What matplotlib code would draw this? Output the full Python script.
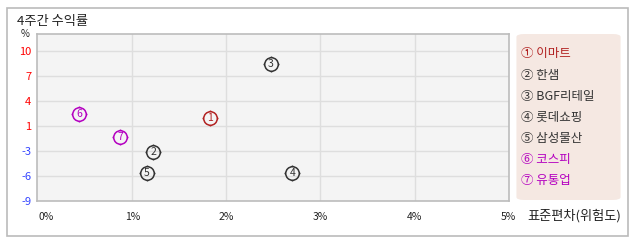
import numpy as np
import matplotlib
matplotlib.use("Agg")
from matplotlib import pyplot as plt
from matplotlib.path import Path
from matplotlib.patches import Rectangle, FancyBboxPatch

plt.rcParams['font.family'] = ['Noto Sans CJK KR', 'DejaVu Sans']

# data
names = ["이마트", "한샘", "BGF리테일", "롯데쇼핑", "삼성물산", "코스피", "유통업"]
risk = [1.82, 1.22, 2.47, 2.70, 1.15, 0.43, 0.87]        # 표준편차 (%)
ret = [1.62, -2.89, 8.50, -5.54, -5.54, 2.03, -0.95]      # 4주간 수익률 (%)
colors = ["#b22222", "#333333", "#333333", "#333333", "#333333", "#b400c0", "#b400c0"]
circled = ["①", "②", "③", "④", "⑤", "⑥", "⑦"]

y_ticks = [-9.2, -5.95, -2.7, 0.55, 3.8, 7.05, 10.3]
y_labels = ["-9", "-6", "-3", "1", "4", "7", "10"]
x_ticks = [0, 1, 2, 3, 4, 5]
x_labels = ["0%", "1%", "2%", "3%", "4%", "5%"]

W, H = 638, 242
fig = plt.figure(figsize=(W / 100, H / 100), dpi=100)


def fx(px):
    return px / W


def fy(py):
    return 1 - py / H


# outer frame
fig.patches.append(Rectangle((fx(6.5), fy(235.5)), fx(621), 228 / H, transform=fig.transFigure,
                             fill=False, ec="#bbbbbb", lw=1.2))

ax = fig.add_axes([fx(37), fy(201), fx(472), 167 / H])
ax.set_facecolor("#f4f4f4")
ax.set_xlim(-0.015, 5.005)
ax.set_ylim(-9.2, 12.45)
for v in y_ticks[1:]:
    ax.axhline(v, color="#dedede", lw=1.0, zorder=1)
for v in x_ticks[1:-1]:
    ax.axvline(v, color="#dedede", lw=1.0, zorder=1)
for s in ax.spines.values():
    s.set_color("#bcbcbc")
    s.set_linewidth(1.2)

ax.set_yticks(y_ticks)
ax.set_yticklabels(y_labels, fontsize=8)
for lab, t in zip(ax.get_yticklabels(), y_ticks):
    lab.set_color("#ff0000" if t > 0 else "#3344ff")
ax.set_xticks(x_ticks)
ax.set_xticklabels(x_labels, fontsize=7.5, color="#222222")
ax.tick_params(length=0)
ax.tick_params(axis="y", pad=4)
ax.tick_params(axis="x", pad=8)
ax.get_xticklabels()[0].set_horizontalalignment("left")

# circle marker with small ticks
circ = Path.circle((0, 0), 1.0)
tick_v = [(0, 1), (0, 1.18), (0, -1), (0, -1.18), (1, 0), (1.18, 0), (-1, 0), (-1.18, 0)]
tick_c = [Path.MOVETO, Path.LINETO] * 4
mk = Path(np.concatenate([circ.vertices, tick_v]), np.concatenate([circ.codes, tick_c]))

for i in range(len(names)):
    ax.plot(risk[i], ret[i], marker=mk, ms=11.5, mfc="none", mec=colors[i], mew=1.1, zorder=3)
    ax.text(risk[i], ret[i], str(i + 1), color=colors[i], fontsize=7.5,
            ha="center", va="center", zorder=4)

fig.text(fx(17), fy(21), "4주간 수익률", fontsize=9.5, color="#222222", va="center", ha="left")
fig.text(fx(25), fy(34), "%", fontsize=7, color="#222222", va="center", ha="center")
fig.text(fx(527), fy(216), "표준편차(위험도)", fontsize=9.5, color="#222222", va="center", ha="left")

# legend box
fig.patches.append(FancyBboxPatch((fx(519), fy(199)), fx(99), 164 / H, transform=fig.transFigure,
                                  boxstyle="round,pad=0.004,rounding_size=0.012",
                                  fc="#f5e8e2", ec="none"))
for i, n in enumerate(names):
    fig.text(fx(521), fy(54 + 21.1 * i), circled[i] + " " + n, fontsize=9, color=colors[i],
             va="center", ha="left")

fig.savefig("out.png", dpi=100)
